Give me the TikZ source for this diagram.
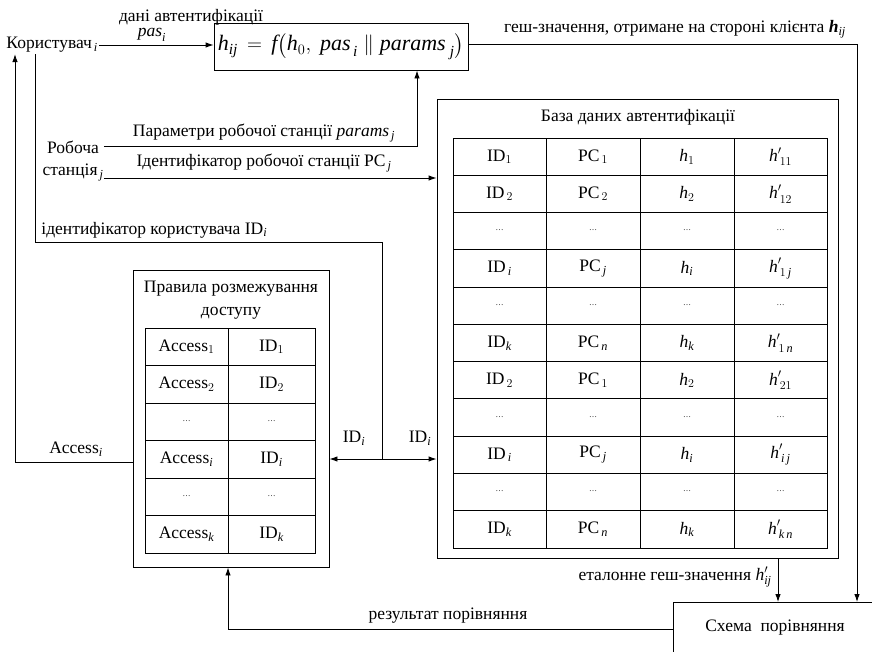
\documentclass[tikz,border=0pt]{standalone}
\usepackage{amsmath}
\usepackage{fontspec}
\setmainfont{Liberation Serif}
\usetikzlibrary{arrows.meta}
\newcommand\mi[1]{\textit{#1}}
\newcommand\dts{\raisebox{0.15ex}{\footnotesize\ldots}}
\begin{document}
\begin{tikzpicture}[x=1pt,y=-1pt,line width=0.9pt,
  >={Latex[length=8pt,width=5.5pt]},
  font=\fontsize{17.5}{20}\selectfont,
  lbl/.style={inner sep=1pt},
  cell/.style={inner sep=0pt},
  boxnode/.style={draw,inner sep=0pt}]
\useasboundingbox (0,0) rectangle (872,651);

% helper coordinates
\coordinate (uline) at (35,0);
\coordinate (lx) at (15,0);
\coordinate (acc) at (0,462);
\coordinate (py) at (0,146);
\coordinate (pcy) at (0,178);
\coordinate (px) at (417,0);
\coordinate (iy) at (0,242);
\coordinate (ix) at (382,0);
\coordinate (idc) at (382,459);
\coordinate (hx) at (857,0);
\coordinate (ex) at (778,0);
\coordinate (ry) at (0,629);
\coordinate (rx) at (228,0);

% main nodes
\node[anchor=west,inner sep=1pt] (user) at (5,45) {Користувач$_{\,\mi{i}}$};
\node[boxnode,minimum width=254,minimum height=47] (f) at (341,46.5)
  {\fontsize{22}{24}\selectfont$\mi{h}_{\mi{ij}} \,=\, \mi{f}\bigl(\mi{h}_0,\ \mi{pas}_{\,\mi{i}}\parallel \mi{params}_{\;\mi{j}}\bigr)$};
\node[align=center,inner sep=0pt] (ws) at (73,161) {Робоча\\[2pt]станція$_{\,\mi{j}}$};
\node[boxnode,minimum width=401,minimum height=459] (db) at (637.5,328.5) {};
\node[boxnode,minimum width=196,minimum height=297] (rules) at (231,418.5) {};
\node[boxnode,minimum width=220,minimum height=60,anchor=north west] (cmp) at (673,602) {};

% titles
\node (dbt) at (638,117) {База даних автентифікації};
\node[align=center] (rt) at (231,300) {Правила розмежування\\[3pt]доступу};
\node (cmpt) at (775,628) {Схема\ \ порівняння};

% DB table
\draw (453,138) rectangle (827,548);
\foreach \x in {546,640,734} \draw (\x,138) -- (\x,548);
\foreach \k in {1,...,10} \draw (453,{138+\k*37.27}) -- (827,{138+\k*37.27});
\foreach [count=\r] \a/\b/\c/\d in {
  ID$_1$/PC$_{\,1}$/$\mi{h}_1$/$\mi{h}'_{\,11}$,
  ID$_{\,2}$/PC$_{\,2}$/$\mi{h}_2$/$\mi{h}'_{\,12}$,
  \dts/\dts/\dts/\dts,
  ID$_{\,\mi{i}}$/PC$_{\,\mi{j}}$/$\mi{h}_{\mi{i}}$/$\mi{h}'_{\,1\,\mi{j}}$,
  \dts/\dts/\dts/\dts,
  ID$_{\mi{k}}$/PC$_{\,\mi{n}}$/$\mi{h}_{\mi{k}}$/$\mi{h}'_{\,1\,\mi{n}}$,
  ID$_{\,2}$/PC$_{\,1}$/$\mi{h}_2$/$\mi{h}'_{\,21}$,
  \dts/\dts/\dts/\dts,
  ID$_{\,\mi{i}}$/PC$_{\,\mi{j}}$/$\mi{h}_{\mi{i}}$/$\mi{h}'_{\,\mi{i}\,\mi{j}}$,
  \dts/\dts/\dts/\dts,
  ID$_{\mi{k}}$/PC$_{\,\mi{n}}$/$\mi{h}_{\mi{k}}$/$\mi{h}'_{\,\mi{k}\,\mi{n}}$}{
  \node[cell] (d\r a) at (499.5,{138+(\r-0.5)*37.27}) {\a};
  \node[cell] (d\r b) at (593,{138+(\r-0.5)*37.27}) {\b};
  \node[cell] (d\r c) at (687,{138+(\r-0.5)*37.27}) {\c};
  \node[cell] (d\r d) at (780.5,{138+(\r-0.5)*37.27}) {\d};
}

% Rules table
\draw (145,328) rectangle (315,553);
\draw (228,328) -- (228,553);
\foreach \k in {1,...,5} \draw (145,{328+\k*37.5}) -- (315,{328+\k*37.5});
\foreach [count=\r] \a/\b in {
  Access$_1$/ID$_1$, Access$_2$/ID$_2$, \dts/\dts,
  Access$_{\mi{i}}$/ID$_{\mi{i}}$, \dts/\dts, Access$_{\mi{k}}$/ID$_{\mi{k}}$}{
  \node[cell] (r\r a) at (186.5,{328+(\r-0.5)*37.5}) {\a};
  \node[cell] (r\r b) at (271.5,{328+(\r-0.5)*37.5}) {\b};
}

% connectors
\draw[->] (user.east |- 0,45) -- (f.west |- 0,45);
\node[lbl] (pasl) at (152,35) {$\mi{pas}_{\mi{i}}$};
\node[lbl] (dal) at (191,17) {дані автентифікації};

\draw[->] (f.east |- 0,44) -| (cmp.north -| hx);
\node[lbl] (hl) at (675,29) {геш-значення, отримане на стороні клієнта $\mi{\textbf{h}}_{\mi{ij}}$};

\draw[->] (rules.west |- acc) -| (user.south -| lx);
\node[lbl] (accl) at (76,449) {Access$_{\mi{i}}$};

\draw (user.south -| uline) |- (iy -| ix) -- (idc);
\node[lbl,anchor=west] (idl) at (40,230) {ідентифікатор користувача ID$_{\mi{i}}$};

\draw[<->] (rules.east |- idc) -- (db.west |- idc);
\node[lbl] (idl1) at (354,438) {ID$_{\mi{i}}$};
\node[lbl] (idl2) at (420,438) {ID$_{\mi{i}}$};

\draw[->] (ws.east |- py) -| (f.south -| px);
\node[lbl] (parl) at (264,133) {Параметри робочої станції \mi{params}$_{\,\mi{j}}$};

\draw[->] (ws.east |- pcy) -- (db.west |- pcy);
\node[lbl] (pcl) at (264,163) {Ідентифікатор робочої станції PC$_{\,\mi{j}}$};

\draw[->] (db.south -| ex) -- (cmp.north -| ex);
\node[lbl,anchor=east] (etl) at (773,577) {еталонне геш-значення $\mi{h}'_{\mi{ij}}$};

\draw[->] (cmp.west |- ry) -| (rules.south -| rx);
\node[lbl] (resl) at (448,616) {результат порівняння};
\end{tikzpicture}
\end{document}
